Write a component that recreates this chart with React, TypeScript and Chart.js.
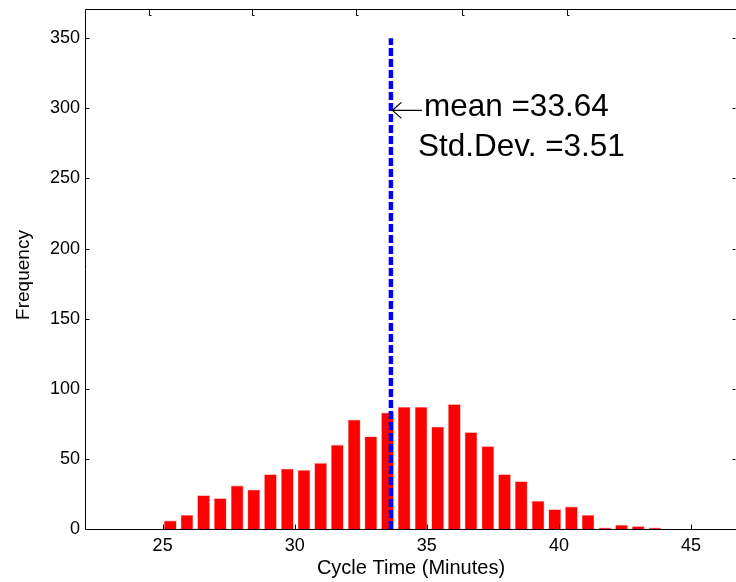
import React, { useEffect, useRef } from "react";
import { Chart, registerables } from "chart.js";

Chart.register(...registerables);

// Histogram bins (bin centres, minutes) and counts
const binCenters = [
  25.29, 25.92, 26.55, 27.18, 27.82, 28.45, 29.08, 29.72, 30.35, 30.98,
  31.61, 32.25, 32.88, 33.51, 34.14, 34.78, 35.41, 36.04, 36.67, 37.31,
  37.94, 38.57, 39.21, 39.84, 40.47, 41.1, 41.74, 42.37, 43.0, 43.63,
];
const frequencies = [
  6, 10, 24, 22, 31, 28, 39, 43, 42, 47,
  60, 78, 66, 83, 87, 87, 73, 89, 69, 59,
  39, 34, 20, 14, 16, 10, 1, 3, 2, 1,
];

const meanValue = 33.64;
const stdDevValue = 3.51;
const meanLineTop = 350;
const annotationY = 300;

const xMin = 22.1;
const xMax = 46.7;
const yMin = 0;
const yMax = 370.5;
const xTickValues = [25, 30, 35, 40, 45];
const yTickValues = [0, 50, 100, 150, 200, 250, 300, 350];
const topTickValues = [24.47, 28.38, 32.33, 36.33, 40.32];

const xTitle = "Cycle Time (Minutes)";
const yTitle = "Frequency";
const meanLabel = "mean =" + meanValue.toFixed(2);
const stdLabel = "Std.Dev. =" + stdDevValue.toFixed(2);

const FONT = "'Liberation Sans', Arial, Helvetica, sans-serif";

const overlayPlugin = {
  id: "overlay",
  afterDatasetsDraw(chart: any) {
    const { ctx, chartArea: a, scales } = chart;
    const x = scales.x;
    const y = scales.y;
    ctx.save();
    ctx.strokeStyle = "#000";
    ctx.lineWidth = 1;
    const L = Math.round(a.left) - 0.5;
    const R = Math.round(a.right) + 0.5;
    const T = Math.floor(a.top) + 0.5;
    const B = Math.round(a.bottom) + 0.5;
    // box
    ctx.beginPath();
    ctx.moveTo(L, T);
    ctx.lineTo(R, T);
    ctx.lineTo(R, B);
    ctx.lineTo(L, B);
    ctx.closePath();
    ctx.stroke();
    // ticks
    ctx.beginPath();
    xTickValues.forEach((v) => {
      const px = Math.round(x.getPixelForValue(v)) + 0.5;
      ctx.moveTo(px, B);
      ctx.lineTo(px, B - 5);
    });
    topTickValues.forEach((v) => {
      const px = Math.round(x.getPixelForValue(v)) + 0.5;
      ctx.moveTo(px, T);
      ctx.lineTo(px, T + 6);
      ctx.moveTo(px, T + 6);
      ctx.lineTo(px + 2, T + 6);
    });
    yTickValues.forEach((v) => {
      const py = Math.round(y.getPixelForValue(v)) + 0.5;
      ctx.moveTo(L, py);
      ctx.lineTo(L + 4, py);
      ctx.moveTo(R - 1, py);
      ctx.lineTo(R - 4, py);
    });
    ctx.stroke();

    // annotation
    const mx = x.getPixelForValue(meanValue);
    const ay = y.getPixelForValue(annotationY);
    ctx.beginPath();
    ctx.lineWidth = 1.2;
    const tipX = mx + 1.5;
    const arY = ay + 2;
    ctx.moveTo(tipX, arY);
    ctx.lineTo(mx + 31, arY);
    ctx.moveTo(tipX + 9, arY - 8);
    ctx.lineTo(tipX, arY);
    ctx.lineTo(tipX + 9, arY + 8);
    ctx.stroke();

    ctx.fillStyle = "#000";
    ctx.font = "31.5px " + FONT;
    ctx.textAlign = "left";
    ctx.textBaseline = "alphabetic";
    ctx.fillText(meanLabel, mx + 33, ay + 7.5);
    ctx.fillText(stdLabel, mx + 27, ay + 48);

    // axis titles
    ctx.font = "20px " + FONT;
    ctx.textAlign = "center";
    ctx.textBaseline = "middle";
    ctx.fillText(xTitle, (a.left + a.right) / 2, 568);
    ctx.save();
    ctx.translate(24, 275);
    ctx.rotate(-Math.PI / 2);
    ctx.font = "19px " + FONT;
    ctx.fillText(yTitle, 0, 0);
    ctx.restore();
    ctx.restore();
  },
};

export default function App() {
  const canvasRef = useRef<HTMLCanvasElement | null>(null);

  useEffect(() => {
    if (!canvasRef.current) return;
    const chart = new Chart(canvasRef.current, {
      type: "bar",
      data: {
        datasets: [
          {
            type: "line",
            label: "mean",
            data: [
              { x: meanValue, y: 0 },
              { x: meanValue, y: meanLineTop },
            ],
            borderColor: "#0000ff",
            borderWidth: 4.5,
            borderDash: [8, 3],
            borderCapStyle: "butt",
            pointRadius: 0,
            fill: false,
            order: 0,
          } as any,
          {
            type: "bar",
            label: "Frequency",
            data: binCenters.map((c, i) => ({ x: c, y: frequencies[i] })),
            backgroundColor: "#ff0000",
            borderColor: "#ff8c8c",
            borderWidth: 0.6,
            barPercentage: 0.76,
            categoryPercentage: 1,
            order: 1,
          } as any,
        ],
      },
      options: {
        animation: false,
        responsive: false,
        maintainAspectRatio: false,
        layout: { padding: { top: 9.5, left: 0, right: 0, bottom: 0 } },
        plugins: {
          legend: { display: false },
          tooltip: { enabled: false },
        },
        scales: {
          x: {
            type: "linear",
            offset: false,
            min: xMin,
            max: xMax,
            grid: { display: false, drawTicks: false, offset: false },
            border: { display: false },
            ticks: {
              stepSize: 5,
              includeBounds: false,
              color: "#000",
              padding: 6,
              maxRotation: 0,
              font: { size: 18, family: FONT },
            },
            afterFit: (s: any) => {
              s.height = 53;
              s.paddingLeft = 0;
              s.paddingRight = 0;
            },
          },
          y: {
            type: "linear",
            min: yMin,
            max: yMax,
            grid: { display: false, drawTicks: false },
            border: { display: false },
            ticks: {
              stepSize: 50,
              includeBounds: false,
              color: "#000",
              padding: 6,
              font: { size: 18, family: FONT },
            },
            afterFit: (s: any) => {
              s.width = 86;
              s.paddingTop = 0;
              s.paddingBottom = 0;
            },
          },
        },
      },
      plugins: [overlayPlugin],
    });
    return () => chart.destroy();
  }, []);

  return (
    <div style={{ position: "fixed", left: 0, top: 0, width: 736, height: 582, background: "#fff" }}>
      <canvas ref={canvasRef} width={736} height={582} style={{ width: 736, height: 582, display: "block" }} />
    </div>
  );
}
